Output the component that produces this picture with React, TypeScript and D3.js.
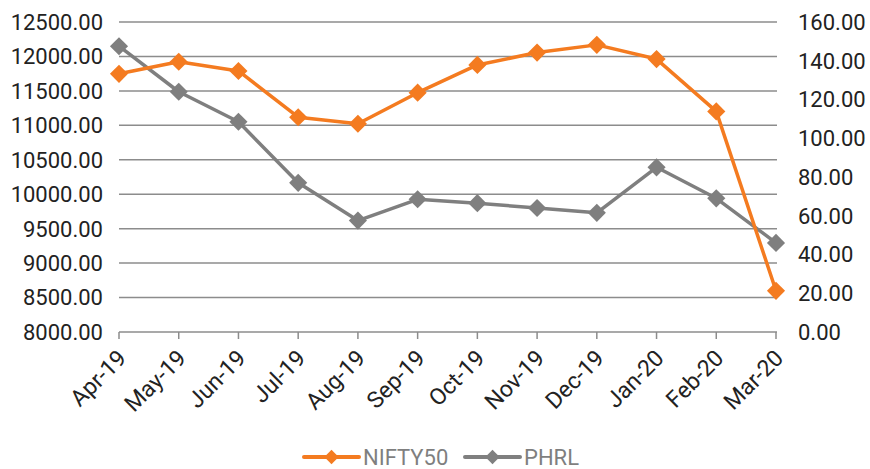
import { useEffect, useRef } from "react";
import * as d3 from "d3";

const months = ["Apr-19", "May-19", "Jun-19", "Jul-19", "Aug-19", "Sep-19", "Oct-19", "Nov-19", "Dec-19", "Jan-20", "Feb-20", "Mar-20"];
const nifty = [11748, 11923, 11789, 11118, 11023, 11474, 11877, 12056, 12168, 11962, 11202, 8598];
const phrl = [147.5, 124, 108.5, 77, 57.5, 68.5, 66.5, 64, 61.5, 85, 69, 46];
const leftTicks = [8000, 8500, 9000, 9500, 10000, 10500, 11000, 11500, 12000, 12500];
const rightTicks = [0, 20, 40, 60, 80, 100, 120, 140, 160];

const ORANGE = "#f47b20";
const GREY = "#7f7f7f";

export default function App() {
  const svgRef = useRef<SVGSVGElement>(null);

  useEffect(() => {
    if (!svgRef.current) return;
    const svg = d3.select(svgRef.current);
    svg.selectAll("*").remove();

    const left = 119, right = 776, top = 22, bottom = 332;
    const font = "Roboto, 'DejaVu Sans', sans-serif";

    const x = d3.scalePoint<string>().domain(months).range([left, right]);
    const yL = d3.scaleLinear().domain([8000, 12500]).range([bottom, top]);
    const yR = d3.scaleLinear().domain([0, 160]).range([bottom, top]);

    // grid lines
    svg.append("g").selectAll("line")
      .data(leftTicks).enter().append("line")
      .attr("x1", left).attr("x2", right + 1)
      .attr("y1", d => yL(d)).attr("y2", d => yL(d))
      .attr("stroke", "#8c8c8c").attr("stroke-width", 1.5);

    // x ticks
    svg.append("g").selectAll("line")
      .data(months).enter().append("line")
      .attr("x1", d => x(d)!).attr("x2", d => x(d)!)
      .attr("y1", bottom).attr("y2", bottom + 7)
      .attr("stroke", "#8c8c8c").attr("stroke-width", 1.5);

    // left labels
    svg.append("g").selectAll("text")
      .data(leftTicks).enter().append("text")
      .attr("x", 103).attr("y", d => yL(d)).attr("dy", "0.36em")
      .attr("text-anchor", "end").attr("fill", "#222")
      .attr("font-family", font).attr("font-size", 22)
      .text(d => d.toFixed(2));

    // right labels
    svg.append("g").selectAll("text")
      .data(rightTicks).enter().append("text")
      .attr("x", 798).attr("y", d => yR(d)).attr("dy", "0.36em")
      .attr("text-anchor", "start").attr("fill", "#222")
      .attr("font-family", font).attr("font-size", 22)
      .text(d => d.toFixed(2));

    // x labels
    svg.append("g").selectAll("text")
      .data(months).enter().append("text")
      .attr("transform", d => `translate(${x(d)! + 3},${bottom + 22}) rotate(-45)`)
      .attr("text-anchor", "end").attr("dy", "0.35em").attr("fill", "#222")
      .attr("font-family", font).attr("font-size", 23)
      .text(d => d);

    const diamond = d3.symbol().type(d3.symbolDiamond2).size(210);

    const drawSeries = (vals: number[], y: d3.ScaleLinear<number, number>, color: string) => {
      const line = d3.line<number>().x((_, i) => x(months[i])!).y(d => y(d));
      svg.append("path").datum(vals)
        .attr("d", line).attr("fill", "none")
        .attr("stroke", color).attr("stroke-width", 3.5).attr("stroke-linejoin", "round");
      svg.append("g").selectAll("path")
        .data(vals).enter().append("path")
        .attr("d", diamond)
        .attr("transform", (d, i) => `translate(${x(months[i])},${y(d)})`)
        .attr("fill", color);
    };

    drawSeries(phrl, yR, GREY);
    drawSeries(nifty, yL, ORANGE);

    // legend
    const legend = [
      { name: "NIFTY50", color: ORANGE, x0: 304 },
      { name: "PHRL", color: GREY, x0: 465 },
    ];
    const ly = 457;
    const lg = svg.append("g").selectAll("g").data(legend).enter().append("g");
    lg.append("line")
      .attr("x1", d => d.x0).attr("x2", d => d.x0 + 55)
      .attr("y1", ly).attr("y2", ly)
      .attr("stroke", d => d.color).attr("stroke-width", 4).attr("stroke-linecap", "round");
    lg.append("path")
      .attr("d", d3.symbol().type(d3.symbolDiamond2).size(130))
      .attr("transform", d => `translate(${d.x0 + 27.5},${ly})`)
      .attr("fill", d => d.color);
    lg.append("text")
      .attr("x", d => d.x0 + 59).attr("y", ly).attr("dy", "0.36em")
      .attr("fill", GREY).attr("font-family", font).attr("font-size", 22)
      .text(d => d.name);
  }, []);

  return (
    <svg ref={svgRef} width={870} height={469}
      style={{ position: "absolute", left: 0, top: 0, background: "#fff" }} />
  );
}
